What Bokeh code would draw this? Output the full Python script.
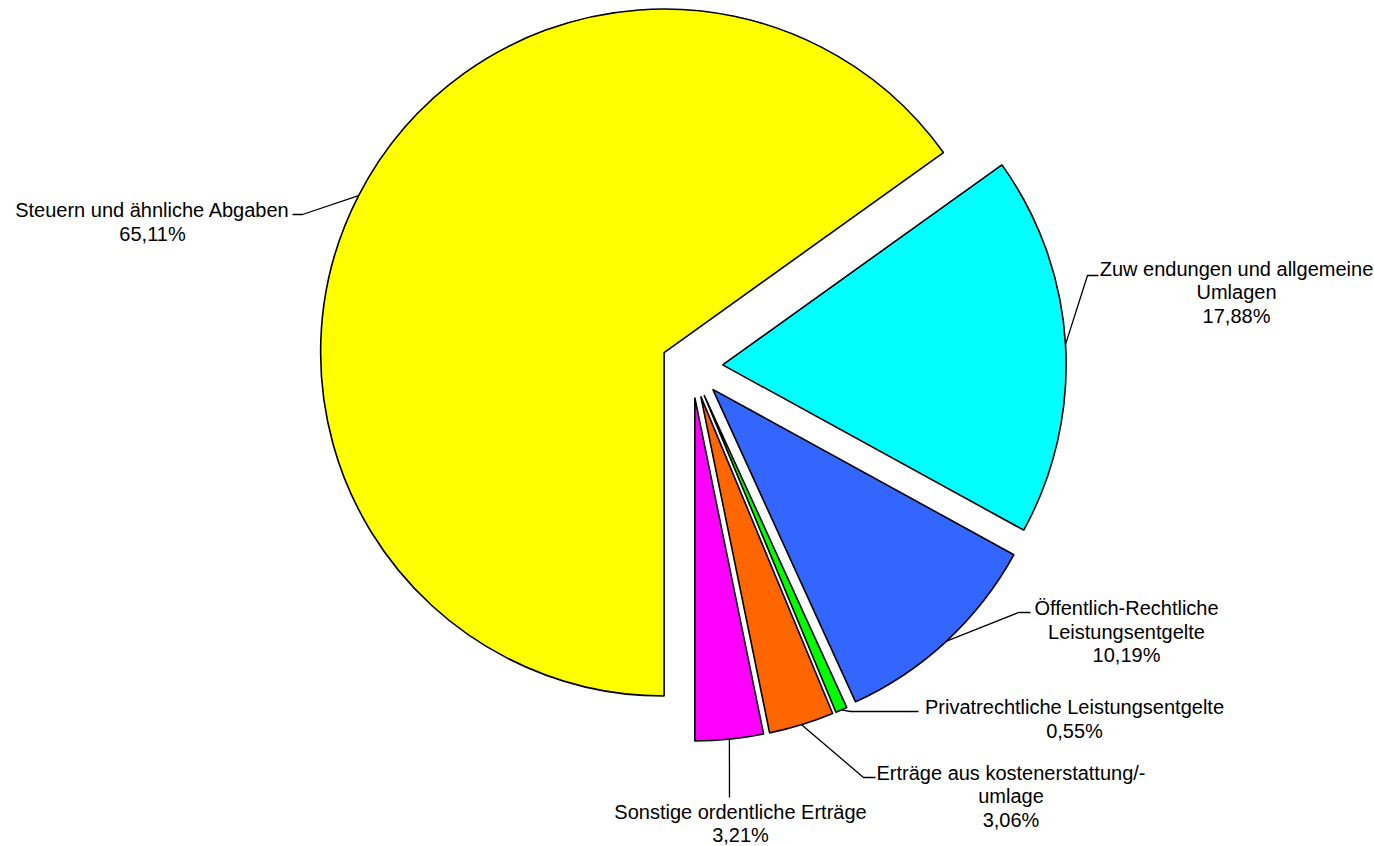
import math
from bokeh.plotting import figure
from bokeh.models import Range1d, ColumnDataSource
from bokeh.embed import file_html
from bokeh.resources import INLINE
from bokeh.core.properties import value

# ---------------- data ----------------
categories = [
    "Steuern und ähnliche Abgaben",
    "Zuwendungen und allgemeine Umlagen",
    "Öffentlich-Rechtliche Leistungsentgelte",
    "Privatrechtliche Leistungsentgelte",
    "Erträge aus kostenerstattung/-umlage",
    "Sonstige ordentliche Erträge",
]
shares = [65.11, 17.88, 10.19, 0.55, 3.06, 3.21]
label_lines = [
    ["Steuern und ähnliche Abgaben"],
    ["Zuw endungen und allgemeine", "Umlagen"],
    ["Öffentlich-Rechtliche", "Leistungsentgelte"],
    ["Privatrechtliche Leistungsentgelte"],
    ["Erträge aus kostenerstattung/-", "umlage"],
    ["Sonstige ordentliche Erträge"],
]
colors = ["#FFFF00", "#00FFFF", "#3366FF", "#00FF00", "#FF6600", "#FF00FF"]

# ---------------- layout (screen pixels) ----------------
W, H = 1374, 846
CX, CY = 691.2, 366.2      # pie centre (screen)
R = 343.5
EXPLODE = 31.0
START = 180.0              # first slice starts at 6 o'clock, clockwise
FONT = "Liberation Sans"
FSIZE = "20px"
LINE_H = 23.5
TEXT_SHIFT = -5.5
# label anchor: centre x, first baseline y (screen)
label_pos = [(152, 215), (1236, 273.5), (1126, 613), (1074, 712), (1010.5, 777.5), (740, 816.5)]
# leader bend points (screen) after the point on the arc
leader_pts = [
    [(302, 214), (292, 214)],
    [(1087, 275), (1098, 275)],
    [(1018, 612), (1030, 612)],
    [(850, 711), (918, 711)],
    [(863, 777), (875, 777)],
    [(729, 797)],
]


def sy(y):
    return H - y


p = figure(width=W, height=H, x_range=Range1d(0, W), y_range=Range1d(0, H),
           output_backend="svg", toolbar_location=None,
           x_axis_type=None, y_axis_type=None, min_border=0)
p.outline_line_color = None
p.xgrid.visible = False
p.ygrid.visible = False
p.background_fill_color = "white"
p.border_fill_color = "white"

total = sum(shares)
xs, ys, sa, ea, arc_pts = [], [], [], [], []
theta = START
for v in shares:
    span = v / total * 360.0
    t0, t1 = theta, theta + span
    tm = math.radians((t0 + t1) / 2)
    ax = CX + EXPLODE * math.sin(tm)
    ay = CY - EXPLODE * math.cos(tm)
    xs.append(ax)
    ys.append(sy(ay))
    sa.append(math.radians(90 - t0))
    ea.append(math.radians(90 - t1))
    arc_pts.append((ax + R * math.sin(tm), ay - R * math.cos(tm)))
    theta = t1

src = ColumnDataSource(dict(x=xs, y=ys, sa=sa, ea=ea, color=colors, cat=categories))
p.wedge(x="x", y="y", radius=R, start_angle="sa", end_angle="ea", direction="clock",
        fill_color="color", line_color="black", line_width=1.6, source=src)

# leader lines
lx, ly = [], []
for (px, py), pts in zip(arc_pts, leader_pts):
    lx.append([px] + [q[0] for q in pts])
    ly.append([sy(py)] + [sy(q[1]) for q in pts])
p.multi_line(xs=lx, ys=ly, line_color="black", line_width=1.3)

# labels
tx, ty, tt = [], [], []
for lines, v, (cx, by) in zip(label_lines, shares, label_pos):
    allines = lines + [f"{v:.2f}".replace(".", ",") + "%"]
    for i, s in enumerate(allines):
        tx.append(cx)
        ty.append(sy(by + i * LINE_H + TEXT_SHIFT))
        tt.append(s)
p.text(x=tx, y=ty, text=tt, text_font=value(FONT), text_font_size=FSIZE,
       text_align="center", text_baseline="alphabetic", text_color="black")

open("out.html", "w").write(file_html(p, INLINE))
